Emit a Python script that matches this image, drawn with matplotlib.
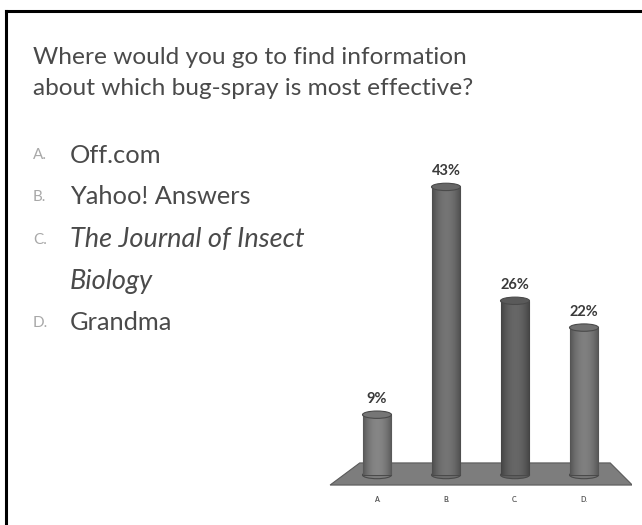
import numpy as np
import matplotlib
matplotlib.use('Agg')
import matplotlib.pyplot as plt
from matplotlib.patches import Polygon, Ellipse, Rectangle

# data
letters = ['A.', 'B.', 'C.', 'D.']
answers = ['Off.com', 'Yahoo! Answers', 'The Journal of Insect\nBiology', 'Grandma']
percent = [9, 43, 26, 22]
bar_colors = ['#7c7c7c', '#6c6c6c', '#5f5f5f', '#767676']

title = 'Where would you go to find information\nabout which bug-spray is most effective?'

plt.rcParams['font.family'] = ['Lato', 'DejaVu Sans']

W, H = 642, 525
fig = plt.figure(figsize=(W / 100, H / 100), dpi=100)
fig.patch.set_facecolor('white')

# slide frame (left and top only visible)
fig.add_artist(plt.Line2D([6 / W, 6 / W], [0, 1 - 11 / H], color='black', lw=2.2))
fig.add_artist(plt.Line2D([6 / W, 1], [1 - 11 / H, 1 - 11 / H], color='black', lw=2.2))

fig.text(33 / W, 1 - 73 / H, title, fontsize=17.6, color='#4a4a4a',
         linespacing=1.6, va='center', ha='left')

# answer list
rows_y = [155, 197, 240, 323]
for let, ans, y in zip(letters, answers, rows_y):
    fig.text(33 / W, 1 - y / H, let, fontsize=11, color='#a8a8a8', va='center')
    if '\n' in ans:
        first, second = ans.split('\n')
        fig.text(70 / W, 1 - y / H, first, fontsize=19.5, color='#4a4a4a',
                 va='center', style='italic')
        fig.text(70 / W, 1 - (y + 41) / H, second, fontsize=19.5, color='#4a4a4a',
                 va='center', style='italic')
    else:
        fig.text(70 / W, 1 - y / H, ans, fontsize=18.3, color='#4a4a4a', va='center')

# chart axes: zero at pixel 475, 6.7 px per percent, 69 px per category
ppu_y = 6.7
ppu_x = 69.0
x0_px, y0_px = 377, 475
xlim = (-0.7, 3.7)
ylim = (-3.0, 50.0)
left = (x0_px + xlim[0] * ppu_x) / W
width = (xlim[1] - xlim[0]) * ppu_x / W
bottom = 1 - (y0_px - ylim[0] * ppu_y) / H
height = (ylim[1] - ylim[0]) * ppu_y / H
ax = fig.add_axes([left, bottom, width, height])
ax.set_xlim(*xlim)
ax.set_ylim(*ylim)
ax.axis('off')

x = np.arange(len(percent))

# floor
floor = Polygon([[-0.25, 1.8], [3.38, 1.8], [3.70, -1.5], [-0.68, -1.5]],
                closed=True, facecolor='#7d7d7d', edgecolor='#5a5a5a', lw=0.8, zorder=1)
ax.add_patch(floor)

bw = 0.42
ell_h = 1.1
grad = np.linspace(-1, 1, 200)
shade = 1 - 0.35 * grad ** 2
for xi, v, c in zip(x, percent, bar_colors):
    rect = Rectangle((xi - bw / 2, 0), bw, v, facecolor=c, edgecolor='#4a4a4a', lw=0.8, zorder=2)
    ax.add_patch(rect)
    rgb = np.array(matplotlib.colors.to_rgb(c))
    img = np.clip(shade[None, :, None] * rgb[None, None, :] * 1.08, 0, 1)
    im = ax.imshow(img, extent=[xi - bw / 2, xi + bw / 2, 0, v], aspect='auto', zorder=2.1)
    im.set_clip_path(rect)
    ax.add_patch(Ellipse((xi, 0), bw, ell_h, facecolor=c, edgecolor='#4a4a4a', lw=0.8, zorder=1.9))
    ax.add_patch(Ellipse((xi, v), bw, ell_h, facecolor=matplotlib.colors.to_hex(np.clip(rgb * 0.95, 0, 1)),
                         edgecolor='#4a4a4a', lw=0.8, zorder=3))
    ax.text(xi, v + 2.3, f'{v}%', ha='center', va='center', fontsize=10.5,
            fontweight='bold', color='#3a3a3a', zorder=4)
ax.set_xlim(*xlim)
ax.set_ylim(*ylim)

for xi, let in zip(x, letters):
    ax.text(xi, -3.6, let, ha='center', va='center', fontsize=5, fontweight='bold',
            color='#555555', clip_on=False)

fig.savefig('out.png', dpi=100, facecolor='white')
